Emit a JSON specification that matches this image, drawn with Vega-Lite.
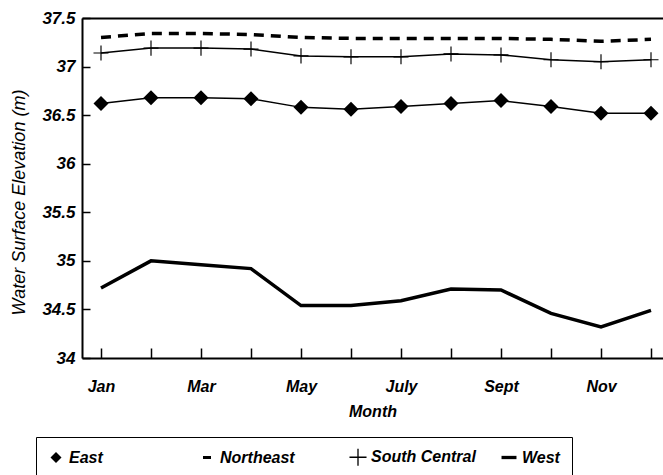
{
  "$schema": "https://vega.github.io/schema/vega-lite/v6.json",
  "autosize": {"type": "none"},
  "padding": {"left": 82, "top": 18, "right": 0, "bottom": 117},
  "width": 581,
  "height": 340,
  "background": "white",
  "config": {
    "view": {"stroke": null},
    "font": "Liberation Sans",
    "axis": {
      "domainColor": "black", "domainWidth": 2,
      "tickColor": "black", "tickWidth": 1.5,
      "labelColor": "black", "titleColor": "black",
      "labelFont": "Liberation Sans", "labelFontStyle": "italic", "labelFontWeight": "bold",
      "titleFont": "Liberation Sans", "titleFontStyle": "italic",
      "grid": false
    }
  },
  "data": {"values": [
    {"month": 1, "series": "East", "value": 36.62},
    {"month": 2, "series": "East", "value": 36.68},
    {"month": 3, "series": "East", "value": 36.68},
    {"month": 4, "series": "East", "value": 36.67},
    {"month": 5, "series": "East", "value": 36.58},
    {"month": 6, "series": "East", "value": 36.56},
    {"month": 7, "series": "East", "value": 36.59},
    {"month": 8, "series": "East", "value": 36.62},
    {"month": 9, "series": "East", "value": 36.65},
    {"month": 10, "series": "East", "value": 36.59},
    {"month": 11, "series": "East", "value": 36.52},
    {"month": 12, "series": "East", "value": 36.52},
    {"month": 1, "series": "Northeast", "value": 37.30},
    {"month": 2, "series": "Northeast", "value": 37.34},
    {"month": 3, "series": "Northeast", "value": 37.34},
    {"month": 4, "series": "Northeast", "value": 37.33},
    {"month": 5, "series": "Northeast", "value": 37.30},
    {"month": 6, "series": "Northeast", "value": 37.29},
    {"month": 7, "series": "Northeast", "value": 37.29},
    {"month": 8, "series": "Northeast", "value": 37.29},
    {"month": 9, "series": "Northeast", "value": 37.29},
    {"month": 10, "series": "Northeast", "value": 37.28},
    {"month": 11, "series": "Northeast", "value": 37.26},
    {"month": 12, "series": "Northeast", "value": 37.28},
    {"month": 1, "series": "South Central", "value": 37.14},
    {"month": 2, "series": "South Central", "value": 37.19},
    {"month": 3, "series": "South Central", "value": 37.19},
    {"month": 4, "series": "South Central", "value": 37.18},
    {"month": 5, "series": "South Central", "value": 37.11},
    {"month": 6, "series": "South Central", "value": 37.10},
    {"month": 7, "series": "South Central", "value": 37.10},
    {"month": 8, "series": "South Central", "value": 37.13},
    {"month": 9, "series": "South Central", "value": 37.12},
    {"month": 10, "series": "South Central", "value": 37.07},
    {"month": 11, "series": "South Central", "value": 37.05},
    {"month": 12, "series": "South Central", "value": 37.07},
    {"month": 1, "series": "West", "value": 34.72},
    {"month": 2, "series": "West", "value": 35.00},
    {"month": 3, "series": "West", "value": 34.96},
    {"month": 4, "series": "West", "value": 34.92},
    {"month": 5, "series": "West", "value": 34.54},
    {"month": 6, "series": "West", "value": 34.54},
    {"month": 7, "series": "West", "value": 34.59},
    {"month": 8, "series": "West", "value": 34.71},
    {"month": 9, "series": "West", "value": 34.70},
    {"month": 10, "series": "West", "value": 34.46},
    {"month": 11, "series": "West", "value": 34.32},
    {"month": 12, "series": "West", "value": 34.49}
  ]},
  "layer": [
    {
      "transform": [{"filter": "datum.series === 'East' || datum.series === 'South Central'"}],
      "mark": {"type": "line", "color": "black", "strokeWidth": 1.5},
      "encoding": {
        "x": {"field": "month", "type": "quantitative",
          "scale": {"domain": [0.62, 12.24], "nice": false, "zero": false},
          "axis": {"orient": "top", "labels": false, "ticks": false, "title": null, "domainWidth": 2}},
        "y": {"field": "value", "type": "quantitative",
          "scale": {"domain": [34, 37.5], "nice": false, "zero": false},
          "axis": {"values": [34, 34.5, 35, 35.5, 36, 36.5, 37, 37.5], "format": "~g",
            "tickSize": -8, "labelPadding": 15, "labelFontSize": 17,
            "title": "Water Surface Elevation (m)", "titleFontSize": 18, "titleFontWeight": "normal",
            "titleX": -63, "titleY": 184, "titleBaseline": "middle", "titleAngle": -90}},
        "detail": {"field": "series"}
      }
    },
    {
      "transform": [{"filter": "datum.series === 'Northeast'"}],
      "mark": {"type": "line", "color": "black", "strokeWidth": 3.5, "strokeDash": [10, 7]},
      "encoding": {
        "x": {"field": "month", "type": "quantitative", "axis": null},
        "y": {"field": "value", "type": "quantitative"}
      }
    },
    {
      "transform": [{"filter": "datum.series === 'West'"}],
      "mark": {"type": "line", "color": "black", "strokeWidth": 3.5},
      "encoding": {
        "x": {"field": "month", "type": "quantitative", "axis": null},
        "y": {"field": "value", "type": "quantitative"}
      }
    },
    {
      "transform": [{"filter": "datum.series === 'East' || datum.series === 'South Central'"}],
      "mark": {"type": "point", "filled": true, "color": "black", "opacity": 1, "strokeWidth": 0},
      "encoding": {
        "x": {"field": "month", "type": "quantitative",
          "axis": {"orient": "bottom", "values": [1,2,3,4,5,6,7,8,9,10,11,12],
            "labelExpr": "['','Jan','','Mar','','May','','July','','Sept','','Nov',''][datum.value]",
            "labelFlush": false, "tickSize": -10, "labelPadding": 30, "labelFontSize": 16,
            "title": "Month", "titleFontSize": 16, "titleFontWeight": "bold",
            "titleY": 53, "titleBaseline": "middle"}},
        "y": {"field": "value", "type": "quantitative"},
        "shape": {"field": "series", "type": "nominal",
          "scale": {"domain": ["East", "Northeast", "South Central", "West"],
            "range": ["diamond",
              "M-0.73,-0.27H0.73V0.27H-0.73Z",
              "M-1.55,-0.12H-0.12V-1.55H0.12V-0.12H1.55V0.12H0.12V1.55H-0.12V0.12H-1.55Z",
              "M-1.36,-0.3H1.36V0.3H-1.36Z"]},
          "legend": {"orient": "none", "legendX": -46, "legendY": 419, "direction": "horizontal",
            "columns": 4, "gridAlign": "all", "columnPadding": 24, "padding": 12,
            "title": null, "strokeColor": "black",
            "symbolSize": 121, "symbolFillColor": "black", "symbolStrokeWidth": 0, "symbolOpacity": 1,
            "labelFont": "Liberation Sans", "labelFontSize": 16, "labelFontStyle": "italic", "labelFontWeight": "bold",
            "labelColor": "black", "labelOffset": 5,
            "encode": {"legend": {"update": {"strokeWidth": {"value": 1.5}}}}}},
        "size": {"field": "series", "type": "nominal", "legend": null,
          "scale": {"domain": ["East", "South Central"], "range": [225, 94]}}
      }
    }
  ],
  "resolve": {"axis": {"x": "independent"}}
}
